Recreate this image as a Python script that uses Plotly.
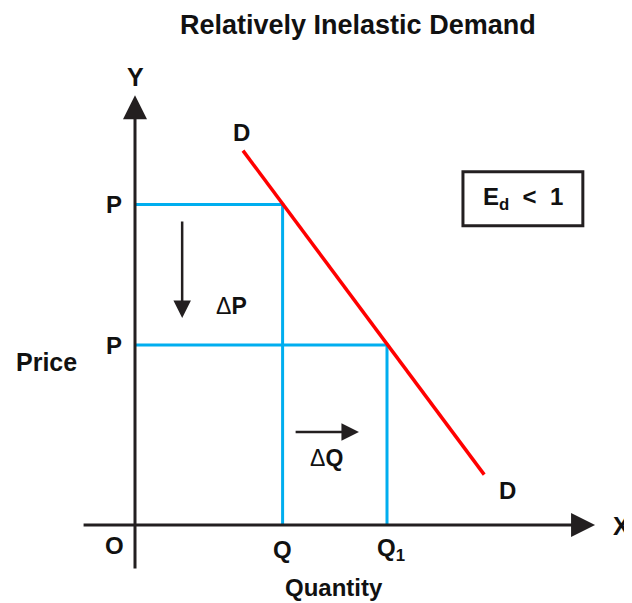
import plotly.graph_objects as go

# ---- data (in chart units; origin O at (0, 0)) ----
title_text = "Relatively Inelastic Demand"
price_labels = ["P", "P"]
price_values = [8.9, 5.0]          # initial price P, lower price P
quantity_labels = ["Q", "Q<sub>1</sub>"]
quantity_values = [4.1, 7.0]       # initial quantity Q, new quantity Q1
demand_x = [3.0, 9.7]
demand_y = [10.4, 1.4]
x_axis_extent = [-1.47, 12.78]
y_axis_extent = [-1.25, 11.94]
elasticity_text = "E<sub>d</sub>  <  1"

FONT = "Liberation Sans, Arial, Helvetica, sans-serif"
BLUE = "#00aeef"
RED = "#ff0000"
INK = "#231f20"

fig = go.Figure()

# blue guide lines
for p, q in zip(price_values, quantity_values):
    fig.add_trace(go.Scatter(x=[0, q, q], y=[p, p, 0], mode="lines",
                             line=dict(color=BLUE, width=3), hoverinfo="skip"))

# demand curve
fig.add_trace(go.Scatter(x=demand_x, y=demand_y, mode="lines",
                         line=dict(color=RED, width=3.5), hoverinfo="skip"))

ann = []

def arrow(x0, y0, x1, y1, width, size):
    ann.append(dict(x=x1, y=y1, ax=x0, ay=y0, xref="x", yref="y", axref="x", ayref="y",
                    text="", showarrow=True, arrowhead=2, arrowwidth=width, arrowsize=size,
                    arrowcolor=INK, standoff=0))

# axes
arrow(0, y_axis_extent[0], 0, y_axis_extent[1], 3, 1.6)
arrow(x_axis_extent[0], 0, x_axis_extent[1], 0, 3, 1.6)

def label(x, y, text, size=24, bold=True, **kw):
    d = dict(x=x, y=y, xref="x", yref="y", text=text, showarrow=False,
             xanchor="center", yanchor="middle",
             font=dict(family=FONT, size=size, color="#111111",
                       weight="bold" if bold else "normal"))
    d.update(kw)
    ann.append(d)

label(0, y_axis_extent[1] + 0.5, "Y", size=25)
label(x_axis_extent[1] + 0.72, -0.03, "X", size=25)
label(-0.58, -0.56, "O")
for p, t in zip(price_values, price_labels):
    label(-0.58, p, t)
for q, t in zip(quantity_values, quantity_labels):
    label(q + (0.12 if "sub" in t else 0), -0.69, t)
label((quantity_values[0] + quantity_values[1]) / 2 - 0.02, -1.74, "Quantity", size=24)
label(-2.47, (price_values[0] + price_values[1]) / 2 - 2.42, "Price", size=25)
label(demand_x[0] - 0.03, demand_y[0] + 0.5, "D")
label(demand_x[1] + 0.66, demand_y[1] - 0.45, "D")

# change arrows
dp_x = 1.31
arrow(dp_x, price_values[0] - 0.43, dp_x, price_values[1] + 0.75, 2.5, 1.4)
label(2.69, 6.08, "Δ<b>P</b>", size=23, bold=False)
dq_y = 2.58
arrow(quantity_values[0] + 0.32, dq_y, quantity_values[1] - 0.78, dq_y, 2.5, 1.4)
label(5.33, 1.86, "Δ<b>Q</b>", size=23, bold=False)

# elasticity box
box = dict(x0=9.11, x1=12.44, y0=8.31, y1=9.81)
fig.add_shape(type="rect", xref="x", yref="y", line=dict(color=INK, width=3),
              fillcolor="white", **box)
label((box["x0"] + box["x1"]) / 2, (box["y0"] + box["y1"]) / 2 + 0.02, elasticity_text, size=24)

# page has an 8px body margin: figure pixel = page pixel - 8
W, H = 624, 595
ann.append(dict(x=(358 - 8) / W, y=1 - (25 - 8) / H, xref="paper", yref="paper", text=title_text,
                xanchor="center", yanchor="middle", showarrow=False,
                font=dict(family=FONT, size=27, color="#111111", weight="bold")))

fig.update_layout(
    width=W, height=H, margin=dict(l=0, r=0, t=0, b=0),
    paper_bgcolor="white", plot_bgcolor="white", showlegend=False,
    xaxis=dict(range=[-127 / 36, (W - 127) / 36], visible=False, fixedrange=True),
    yaxis=dict(range=[-(H - 517) / 36, 517 / 36], visible=False, fixedrange=True),
    annotations=ann,
)

fig.write_html("out.html")
